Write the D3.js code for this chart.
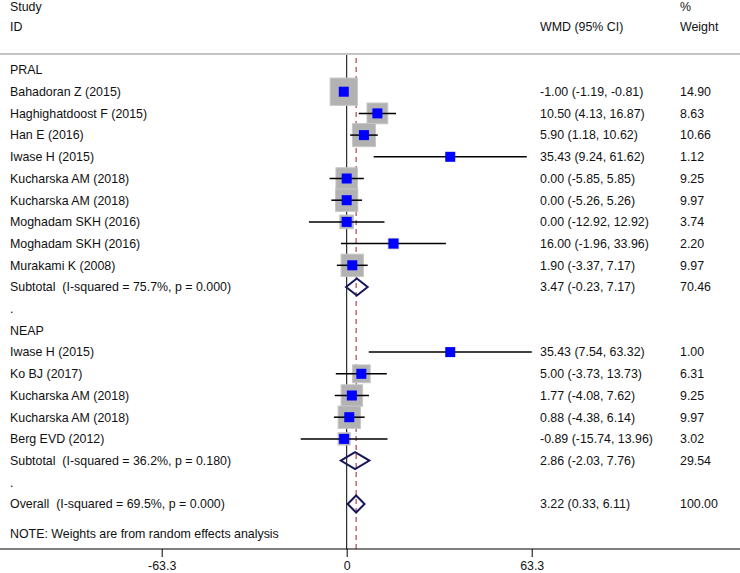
<!DOCTYPE html>
<html>
<head>
<meta charset="utf-8">
<script src="https://cdn.jsdelivr.net/npm/d3@7"></script>
<style>
  html, body { margin: 0; padding: 0; background: #fff; }
  svg { display: block; }
  text { font-family: "Liberation Sans", Arial, sans-serif; font-size: 12.4px; fill: #111; white-space: pre; }
</style>
</head>
<body>
<svg id="chart" width="740" height="573"></svg>
<script>
// ---- data ----
const groups = ["PRAL", "NEAP"];
const studyLabels = [
  "Bahadoran Z (2015)", "Haghighatdoost F (2015)", "Han E (2016)", "Iwase H (2015)",
  "Kucharska AM (2018)", "Kucharska AM (2018)", "Moghadam SKH (2016)", "Moghadam SKH (2016)",
  "Murakami K (2008)",
  "Iwase H (2015)", "Ko BJ (2017)", "Kucharska AM (2018)", "Kucharska AM (2018)", "Berg EVD (2012)"
];
const studyGroup = ["PRAL","PRAL","PRAL","PRAL","PRAL","PRAL","PRAL","PRAL","PRAL",
                    "NEAP","NEAP","NEAP","NEAP","NEAP"];
const wmd    = [-1.00, 10.50, 5.90, 35.43, 0.00, 0.00, 0.00, 16.00, 1.90, 35.43, 5.00, 1.77, 0.88, -0.89];
const ciLow  = [-1.19, 4.13, 1.18, 9.24, -5.85, -5.26, -12.92, -1.96, -3.37, 7.54, -3.73, -4.08, -4.38, -15.74];
const ciHigh = [-0.81, 16.87, 10.62, 61.62, 5.85, 5.26, 12.92, 33.96, 7.17, 63.32, 13.73, 7.62, 6.14, 13.96];
const weights = [14.90, 8.63, 10.66, 1.12, 9.25, 9.97, 3.74, 2.20, 9.97, 1.00, 6.31, 9.25, 9.97, 3.02];

const subI2 = ["75.7%", "36.2%"];
const subP = ["0.000", "0.180"];
const subWmd = [3.47, 2.86];
const subLow = [-0.23, -2.03];
const subHigh = [7.17, 7.76];
const subWeight = [70.46, 29.54];

const overallI2 = "69.5%", overallP = "0.000";
const overallWmd = 3.22, overallLow = 0.33, overallHigh = 6.11, overallWeight = 100.00;

const tickValues = [-63.3, 0, 63.3];
const tickLabels = ["-63.3", "0", "63.3"];
const noteText = "NOTE: Weights are from random effects analysis";

// ---- build rows ----
const rows = [];
groups.forEach((g, gi) => {
  rows.push({type: "header", label: g});
  studyLabels.forEach((s, i) => {
    if (studyGroup[i] === g) rows.push({type: "study", label: s, est: wmd[i], lo: ciLow[i], hi: ciHigh[i], w: weights[i]});
  });
  rows.push({type: "sub", label: `Subtotal  (I-squared = ${subI2[gi]}, p = ${subP[gi]})`,
             est: subWmd[gi], lo: subLow[gi], hi: subHigh[gi], w: subWeight[gi]});
  rows.push({type: "dot", label: "."});
});
rows.push({type: "sub", label: `Overall  (I-squared = ${overallI2}, p = ${overallP})`,
           est: overallWmd, lo: overallLow, hi: overallHigh, w: overallWeight});
rows.forEach((r, i) => r.i = i);

// ---- layout ----
const svg = d3.select("#chart");
const x = d3.scaleLinear().domain([-63.3, 63.3]).range([161.7, 531.7]);
const y = d3.scaleLinear().domain([0, rows.length - 1]).range([70, 504]);
const fmt = v => v.toFixed(2);
const axisY = 549;
const topLineY = 54;

// headers
svg.append("text").attr("x", 10).attr("y", 7).attr("dy", "0.35em").text("Study");
svg.append("text").attr("x", 10).attr("y", 27).attr("dy", "0.35em").text("ID");
svg.append("text").attr("x", 540).attr("y", 27).attr("dy", "0.35em").text("WMD (95% CI)");
svg.append("text").attr("x", 680).attr("y", 7).attr("dy", "0.35em").text("%");
svg.append("text").attr("x", 680).attr("y", 27).attr("dy", "0.35em").text("Weight");

// top separator
svg.append("line").attr("x1", 0).attr("x2", 740).attr("y1", topLineY).attr("y2", topLineY)
  .attr("stroke", "#c4c4c4").attr("stroke-width", 2);

// null line
svg.append("line").attr("x1", x(0)).attr("x2", x(0)).attr("y1", topLineY + 1).attr("y2", axisY)
  .attr("stroke", "#000").attr("stroke-width", 1);

// overall dashed line
svg.append("line").attr("x1", x(overallWmd)).attr("x2", x(overallWmd)).attr("y1", 58).attr("y2", axisY)
  .attr("stroke", "#9a1f2a").attr("stroke-width", 1).attr("stroke-dasharray", "5,4");

// study marks
const studies = rows.filter(r => r.type === "study");
const k = 7.07;
svg.selectAll("rect.box").data(studies).enter().append("rect")
  .attr("class", "box")
  .attr("x", d => x(d.est) - k * Math.sqrt(d.w) / 2)
  .attr("y", d => y(d.i) - k * Math.sqrt(d.w) / 2)
  .attr("width", d => k * Math.sqrt(d.w))
  .attr("height", d => k * Math.sqrt(d.w))
  .attr("fill", "#b2b2b2").attr("stroke", "#c6c6c6").attr("stroke-width", 1);
svg.selectAll("line.ci").data(studies).enter().append("line")
  .attr("class", "ci")
  .attr("x1", d => x(d.lo)).attr("x2", d => x(d.hi))
  .attr("y1", d => y(d.i)).attr("y2", d => y(d.i))
  .attr("stroke", "#000").attr("stroke-width", 1.5);
svg.selectAll("rect.pt").data(studies).enter().append("rect")
  .attr("class", "pt")
  .attr("x", d => x(d.est) - 5).attr("y", d => y(d.i) - 5)
  .attr("width", 10).attr("height", 10)
  .attr("fill", "#0000ff");

// diamonds
const subs = rows.filter(r => r.type === "sub");
svg.selectAll("path.dia").data(subs).enter().append("path")
  .attr("class", "dia")
  .attr("d", d => {
    const cy = y(d.i), h = 8.5;
    return `M${x(d.lo)},${cy} L${x(d.est)},${cy - h} L${x(d.hi)},${cy} L${x(d.est)},${cy + h} Z`;
  })
  .attr("fill", "none").attr("stroke", "#16175a").attr("stroke-width", 2)
  .attr("stroke-linejoin", "miter");

// left labels
svg.selectAll("text.lab").data(rows).enter().append("text")
  .attr("class", "lab")
  .attr("x", 10).attr("y", d => y(d.i)).attr("dy", "0.35em")
  .text(d => d.label);

// right columns
const valued = rows.filter(r => r.type === "study" || r.type === "sub");
svg.selectAll("text.ci").data(valued).enter().append("text")
  .attr("class", "ci")
  .attr("x", 540).attr("y", d => y(d.i)).attr("dy", "0.35em")
  .text(d => `${fmt(d.est)} (${fmt(d.lo)}, ${fmt(d.hi)})`);
svg.selectAll("text.wt").data(valued).enter().append("text")
  .attr("class", "wt")
  .attr("x", 680).attr("y", d => y(d.i)).attr("dy", "0.35em")
  .text(d => fmt(d.w));

// note
svg.append("text").attr("x", 10).attr("y", 534).attr("dy", "0.35em").text(noteText);

// axis
svg.append("line").attr("x1", 0).attr("x2", 740).attr("y1", axisY).attr("y2", axisY)
  .attr("stroke", "#000").attr("stroke-width", 1.2);
const axis = d3.axisBottom(x).tickValues(tickValues).tickSize(8).tickPadding(4)
  .tickFormat((d, i) => tickLabels[i]);
const ag = svg.append("g").attr("transform", `translate(0,${axisY})`).call(axis);
ag.select(".domain").remove();
ag.selectAll(".tick line").attr("stroke", "#000");
ag.selectAll(".tick text").attr("font-family", "Liberation Sans, Arial, sans-serif").attr("font-size", 12.4).attr("fill", "#111");
</script>
</body>
</html>
